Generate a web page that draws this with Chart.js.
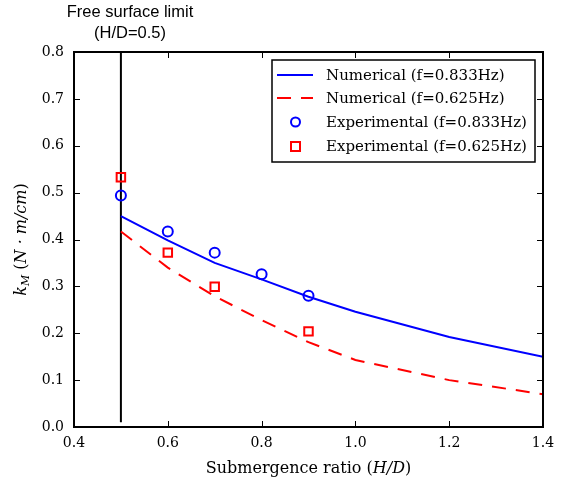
<!DOCTYPE html>
<html>
<head>
<meta charset="utf-8">
<script src="https://cdn.jsdelivr.net/npm/chart.js@4"></script>
<style>
  body { margin: 0; background: #fff; }
</style>
</head>
<body>
<canvas id="myChart" width="564" height="480"></canvas>
<script>
// numerical curves
var xNum = [0.5, 0.6, 0.7, 0.8, 0.9, 1.0, 1.2, 1.4];
var kNum833 = [0.45, 0.398, 0.35, 0.315, 0.278, 0.246, 0.192, 0.150];
var kNum625 = [0.417, 0.34, 0.279, 0.228, 0.181, 0.143, 0.100, 0.070];

// experiments
var xExp833 = [0.5, 0.6, 0.7, 0.8, 0.9];
var kExp833 = [0.494, 0.417, 0.372, 0.326, 0.280];
var xExp625 = [0.5, 0.6, 0.7, 0.9];
var kExp625 = [0.533, 0.372, 0.299, 0.204];

// free surface limit line
var xLimit = [0.5, 0.5];
var yLimit = [0.01, 0.8];

var xTicks = [0.4, 0.6, 0.8, 1.0, 1.2, 1.4];
var yTicks = [0.0, 0.1, 0.2, 0.3, 0.4, 0.5, 0.6, 0.7, 0.8];

var serif = '"DejaVu Serif", serif';

function pts(xs, ys) {
  return xs.map(function (x, i) { return { x: x, y: ys[i] }; });
}

// inward ticks, frame, legend and texts in matplotlib style
var decor = {
  id: 'decor',
  afterDraw: function (chart) {
    var c = chart.ctx, a = chart.chartArea;
    var sx = chart.scales.x, sy = chart.scales.y;
    c.save();
    c.strokeStyle = '#000';
    c.lineWidth = 1;
    xTicks.forEach(function (v) {
      var p = Math.round(sx.getPixelForValue(v)) + 0.5;
      c.beginPath();
      c.moveTo(p, a.bottom); c.lineTo(p, a.bottom - 6);
      c.moveTo(p, a.top); c.lineTo(p, a.top + 6);
      c.stroke();
    });
    yTicks.forEach(function (v) {
      var p = Math.round(sy.getPixelForValue(v)) + 0.5;
      c.beginPath();
      c.moveTo(a.left, p); c.lineTo(a.left + 6, p);
      c.moveTo(a.right, p); c.lineTo(a.right - 6, p);
      c.stroke();
    });
    c.lineWidth = 2;
    c.strokeRect(a.left, a.top, a.right - a.left, a.bottom - a.top);

    // legend
    var lx = 272, ly = 60, lw = 263, lh = 102;
    c.fillStyle = '#fff';
    c.fillRect(lx, ly, lw, lh);
    c.lineWidth = 1.5;
    c.strokeRect(lx, ly, lw, lh);
    var rows = [75, 98, 122, 146];
    c.font = '15px ' + serif;
    c.textBaseline = 'middle';
    c.textAlign = 'left';
    chart.data.datasets.slice(0, 4).forEach(function (ds, i) {
      var y = rows[i];
      c.strokeStyle = ds.borderColor;
      c.lineWidth = 2;
      if (ds.showLine) {
        c.setLineDash(ds.borderDash || []);
        c.beginPath();
        c.moveTo(277, y); c.lineTo(313, y);
        c.stroke();
        c.setLineDash([]);
      } else if (ds.pointStyle === 'rect') {
        c.strokeRect(291, y - 4, 9, 9);
      } else {
        c.beginPath();
        c.arc(295.5, y, 4.5, 0, Math.PI * 2);
        c.stroke();
      }
      c.fillStyle = '#000';
      c.fillText(ds.label, 326, y + 1);
    });

    // annotation above the limit line
    c.font = '16.5px "Liberation Sans", Arial, sans-serif';
    c.textAlign = 'center';
    c.fillText('Free surface limit', 130, 12);
    c.fillText('(H/D=0.5)', 130, 33);

    // x axis title
    var parts = [['Submergence ratio (', ''], ['H/D', 'italic '], [')', '']];
    var w = 0;
    parts.forEach(function (p) { c.font = p[1] + '16px ' + serif; w += c.measureText(p[0]).width; });
    var x0 = (a.left + a.right) / 2 - w / 2;
    c.textAlign = 'left';
    parts.forEach(function (p) {
      c.font = p[1] + '16px ' + serif;
      c.fillText(p[0], x0, 469);
      x0 += c.measureText(p[0]).width;
    });

    // y axis title, rotated
    c.translate(22, (a.top + a.bottom) / 2);
    c.rotate(-Math.PI / 2);
    var yp = [['k', 'italic 16px', 0], ['M', 'italic 11px', 4], [' (', '16px', 0], ['N \u00b7 m/cm', 'italic 16px', 0], [')', '16px', 0]];
    w = 0;
    yp.forEach(function (p) { c.font = p[1] + ' ' + serif; w += c.measureText(p[0]).width; });
    var t = -w / 2;
    yp.forEach(function (p) {
      c.font = p[1] + ' ' + serif;
      c.fillText(p[0], t, p[2]);
      t += c.measureText(p[0]).width;
    });
    c.restore();
  }
};

var ctx = document.getElementById('myChart').getContext('2d');
var chart = new Chart(ctx, {
  type: 'scatter',
  data: {
    datasets: [
      {
        label: 'Numerical (f=0.833Hz)',
        data: pts(xNum, kNum833),
        showLine: true,
        borderColor: 'rgb(0,0,255)',
        borderWidth: 2,
        pointRadius: 0,
      },
      {
        label: 'Numerical (f=0.625Hz)',
        data: pts(xNum, kNum625),
        showLine: true,
        borderColor: 'rgb(255,0,0)',
        borderWidth: 2,
        borderDash: [14, 10],
        pointRadius: 0,
      },
      {
        label: 'Experimental (f=0.833Hz)',
        data: pts(xExp833, kExp833),
        showLine: false,
        borderColor: 'rgb(0,0,255)',
        backgroundColor: 'rgba(0,0,0,0)',
        borderWidth: 2,
        pointStyle: 'circle',
        pointRadius: 5,
      },
      {
        label: 'Experimental (f=0.625Hz)',
        data: pts(xExp625, kExp625),
        showLine: false,
        borderColor: 'rgb(255,0,0)',
        backgroundColor: 'rgba(0,0,0,0)',
        borderWidth: 2,
        pointStyle: 'rect',
        pointRadius: 6,
      },
      {
        label: 'limit',
        data: pts(xLimit, yLimit),
        showLine: true,
        borderColor: '#000',
        borderWidth: 2,
        pointRadius: 0,
      },
    ],
  },
  options: {
    responsive: false,
    animation: false,
    layout: { padding: { top: 52, right: 21, left: 0, bottom: 0 } },
    plugins: { legend: { display: false }, tooltip: { enabled: false } },
    scales: {
      x: {
        type: 'linear',
        min: 0.4,
        max: 1.4,
        grid: { display: false, drawTicks: false },
        border: { display: false },
        afterBuildTicks: function (s) { s.ticks = xTicks.map(function (v) { return { value: v }; }); },
        afterFit: function (s) { s.height = 53; },
        ticks: {
          color: '#000',
          padding: 8,
          font: { family: serif, size: 14 },
          callback: function (v) { return v.toFixed(1); },
        },
      },
      y: {
        min: 0,
        max: 0.8,
        grid: { display: false, drawTicks: false },
        border: { display: false },
        afterBuildTicks: function (s) { s.ticks = yTicks.map(function (v) { return { value: v }; }); },
        afterFit: function (s) { s.width = 74; },
        ticks: {
          color: '#000',
          padding: 10,
          font: { family: serif, size: 14 },
          callback: function (v) { return v.toFixed(1); },
        },
      },
    },
  },
  plugins: [decor],
});
</script>
</body>
</html>
